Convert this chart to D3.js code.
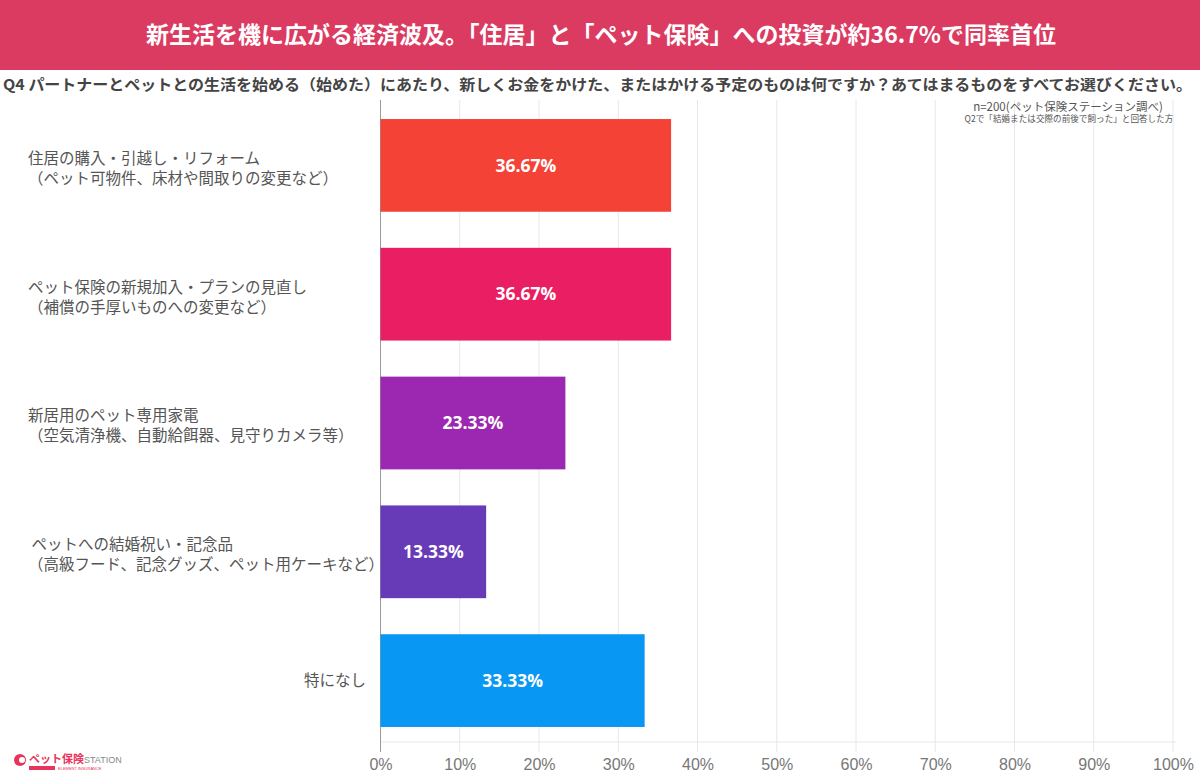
<!DOCTYPE html>
<html>
<head>
<meta charset="utf-8">
<script src="https://cdn.jsdelivr.net/npm/d3@7"></script>
<style>
  body { margin: 0; background: #fff; }
  svg { display: block; font-family: "Noto Sans CJK JP", "Noto Sans", sans-serif; }
</style>
</head>
<body>
<svg width="1200" height="784"></svg>
<script>
// data
const categories = ["住居", "ペット保険", "家電", "結婚祝い", "特になし"];
const labelLines = [
  ["住居の購入・引越し・リフォーム", "（ペット可物件、床材や間取りの変更など）"],
  ["ペット保険の新規加入・プランの見直し", "（補償の手厚いものへの変更など）"],
  ["新居用のペット専用家電", "（空気清浄機、自動給餌器、見守りカメラ等）"],
  [" ペットへの結婚祝い・記念品", "（高級フード、記念グッズ、ペット用ケーキなど）"],
  ["特になし"]
];
const values = [36.67, 36.67, 23.33, 13.33, 33.33];
const barColors = ["#F44336", "#E91E63", "#9C27B0", "#673AB7", "#0898F4"];
const ticks = [0, 10, 20, 30, 40, 50, 60, 70, 80, 90, 100];

const titleText = "新生活を機に広がる経済波及。「住居」と「ペット保険」への投資が約36.7%で同率首位";
const questionText = "Q4 パートナーとペットとの生活を始める（始めた）にあたり、新しくお金をかけた、またはかける予定のものは何ですか？あてはまるものをすべてお選びください。";
const noteLines = ["n=200(ペット保険ステーション調べ)", "Q2で「結婚または交際の前後で飼った」と回答した方"];

const svg = d3.select("svg");

// header banner
svg.append("rect")
    .attr("x", 0).attr("y", 0)
    .attr("width", 1200).attr("height", 70)
    .attr("fill", "#DB3B61");

svg.append("text")
    .attr("x", 601).attr("y", 43)
    .attr("text-anchor", "middle")
    .attr("fill", "#fff")
    .attr("font-size", 23)
    .attr("font-weight", 700)
    .text(titleText);

svg.append("text")
    .attr("x", 3).attr("y", 90)
    .attr("fill", "#444")
    .attr("font-size", 15)
    .attr("font-weight", 700)
    .attr("textLength", 1189)
    .attr("lengthAdjust", "spacingAndGlyphs")
    .text(questionText);

// scales
const x = d3.scaleLinear().domain([0, 100]).range([380.5, 1173]);
const y = d3.scaleBand().domain(categories).range([101, 745]).paddingInner(0.28).paddingOuter(0.14);

// grid
svg.append("g")
  .selectAll("line")
  .data(ticks.slice(1))
  .join("line")
    .attr("x1", d => x(d)).attr("x2", d => x(d))
    .attr("y1", 100).attr("y2", 752)
    .attr("stroke", "#e8e6ea").attr("stroke-width", 1);

svg.append("line")
    .attr("x1", x(0)).attr("x2", x(100) + 3)
    .attr("y1", 742).attr("y2", 742)
    .attr("stroke", "#e8e6ea");

svg.append("line")
    .attr("x1", x(0)).attr("x2", x(0))
    .attr("y1", 100).attr("y2", 752)
    .attr("stroke", "#9a9a9a");

// axis labels
const xAxis = svg.append("g")
    .attr("transform", "translate(0,753)")
    .call(d3.axisBottom(x).tickValues(ticks).tickSize(0).tickPadding(6).tickFormat(d => d + "%"));
xAxis.select(".domain").remove();
xAxis.selectAll("text")
    .attr("fill", "#777")
    .attr("font-size", 16)
    .attr("font-family", "'Liberation Sans', sans-serif");

// bars
const bars = svg.append("g")
  .selectAll("g")
  .data(categories)
  .join("g");

bars.append("rect")
    .attr("x", x(0))
    .attr("y", d => y(d))
    .attr("width", (d, i) => x(values[i]) - x(0))
    .attr("height", y.bandwidth())
    .attr("fill", (d, i) => barColors[i]);

bars.append("text")
    .attr("x", (d, i) => (x(0) + x(values[i])) / 2)
    .attr("y", d => y(d) + y.bandwidth() / 2)
    .attr("dy", "0.35em")
    .attr("text-anchor", "middle")
    .attr("fill", "#fff")
    .attr("font-size", 17.5)
    .attr("font-weight", 700)
    .attr("font-family", "'Open Sans', 'Noto Sans', sans-serif")
    .text((d, i) => values[i].toFixed(2) + "%");

// category labels
const labels = svg.append("g")
  .selectAll("text")
  .data(categories)
  .join("text")
    .attr("fill", "#555")
    .attr("font-size", 15.5)
    .attr("xml:space", "preserve")
    .attr("text-anchor", (d, i) => labelLines[i].length > 1 ? "start" : "end")
    .attr("transform", (d, i) => {
      const cy = y(d) + y.bandwidth() / 2;
      const n = labelLines[i].length;
      const lx = n > 1 ? 28 : 366;
      return "translate(" + lx + "," + (cy - (n - 1) * 10 + (n > 1 ? 3 : 0)) + ")";
    });

labels.selectAll("tspan")
  .data((d, i) => labelLines[i])
  .join("tspan")
    .attr("x", 0)
    .attr("dy", (d, i) => i === 0 ? "0.35em" : "20")
    .text(d => d);

// note (top right)
svg.append("text")
    .attr("x", 1068).attr("y", 111)
    .attr("text-anchor", "middle")
    .attr("fill", "#555")
    .attr("font-size", 11.5)
    .text(noteLines[0]);
svg.append("text")
    .attr("x", 1069).attr("y", 122)
    .attr("text-anchor", "middle")
    .attr("fill", "#555")
    .attr("font-size", 8.6)
    .text(noteLines[1]);

// logo
const logo = svg.append("g").attr("transform", "translate(14,760)");
logo.append("circle").attr("cx", 6).attr("cy", 0).attr("r", 6).attr("fill", "#E8345A");
logo.append("circle").attr("cx", 8).attr("cy", 0).attr("r", 3).attr("fill", "#fff");
logo.append("text")
    .attr("x", 15).attr("y", 3)
    .attr("fill", "#E8345A")
    .attr("font-size", 11)
    .attr("font-weight", 700)
    .text("ペット保険");
logo.append("text")
    .attr("x", 70).attr("y", 3)
    .attr("fill", "#888")
    .attr("font-size", 9)
    .attr("font-family", "'Liberation Sans', sans-serif")
    .text("STATION");
logo.append("rect").attr("x", 15).attr("y", 6).attr("width", 26).attr("height", 4).attr("fill", "#E8345A");
logo.append("text")
    .attr("x", 44).attr("y", 10)
    .attr("fill", "#E8345A")
    .attr("font-size", 4)
    .attr("font-family", "'Liberation Sans', sans-serif")
    .text("ELEMENT INSURANCE");
</script>
</body>
</html>
